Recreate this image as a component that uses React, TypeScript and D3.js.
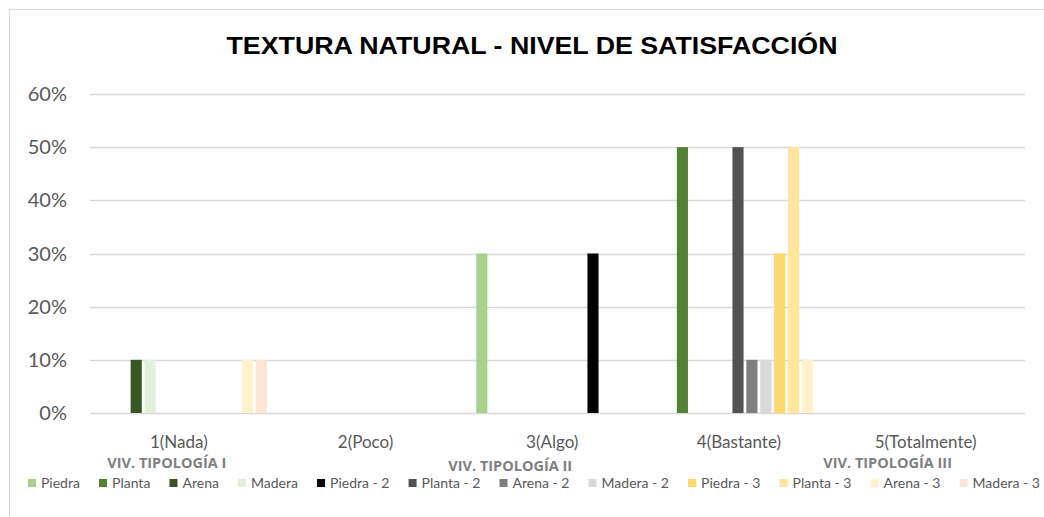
import React, { useEffect, useRef } from 'react';
import * as d3 from 'd3';

const title = "TEXTURA NATURAL - NIVEL DE SATISFACCIÓN";
const categories = ["1(Nada)", "2(Poco)", "3(Algo)", "4(Bastante)", "5(Totalmente)"];
const seriesNames = [
  "Piedra", "Planta", "Arena", "Madera",
  "Piedra - 2", "Planta - 2", "Arena - 2", "Madera - 2",
  "Piedra - 3", "Planta - 3", "Arena - 3", "Madera - 3",
];
const seriesColors = [
  "#A9D18E", "#548235", "#375623", "#E2EFDA",
  "#000000", "#525252", "#7F7F7F", "#D9D9D9",
  "#FFD966", "#FFE699", "#FFF2CC", "#FBE5D6",
];

// one array per series, one value per category
const piedra = [0, 0, 0.3, 0, 0];
const planta = [0, 0, 0, 0.5, 0];
const arena = [0.1, 0, 0, 0, 0];
const madera = [0.1, 0, 0, 0, 0];
const piedra2 = [0, 0, 0, 0, 0];
const planta2 = [0, 0, 0, 0.5, 0];
const arena2 = [0, 0, 0, 0.1, 0];
const madera2 = [0, 0, 0, 0.1, 0];
const piedra3 = [0, 0, 0.3, 0.3, 0];
const planta3 = [0, 0, 0, 0.5, 0];
const arena3 = [0.1, 0, 0, 0.1, 0];
const madera3 = [0.1, 0, 0, 0, 0];
const seriesValues = [piedra, planta, arena, madera, piedra2, planta2, arena2, madera2, piedra3, planta3, arena3, madera3];

// single point drawn in another colour in the original
const pointOverrides = [{ series: "Piedra - 3", category: "3(Algo)", color: "#000000" }];

const yTicks = [0, 0.1, 0.2, 0.3, 0.4, 0.5, 0.6];
const groupLabels = ["VIV. TIPOLOGÍA I", "VIV. TIPOLOGÍA II", "VIV. TIPOLOGÍA III"];

export default function App() {
  const ref = useRef<SVGSVGElement>(null);

  useEffect(() => {
    const width = 1044;
    const height = 517;
    const margin = { top: 94, right: 19, bottom: 104, left: 91.5 };
    const font = "Lato, 'Open Sans', sans-serif";

    const svg = d3.select(ref.current);
    svg.selectAll("*").remove();

    svg.append("rect")
      .attr("x", 9.5).attr("y", 9.5)
      .attr("width", 1100).attr("height", 600)
      .attr("fill", "white").attr("stroke", "#d9d9d9");

    const x = d3.scaleBand()
      .domain(categories)
      .range([margin.left, width - margin.right]);

    const inner = d3.scaleBand()
      .domain(seriesNames)
      .range([-82, 82])
      .paddingInner(0.2);

    const y = d3.scaleLinear()
      .domain([0, 0.6])
      .range([height - margin.bottom, margin.top]);

    svg.append("text")
      .attr("x", 532).attr("y", 54)
      .attr("text-anchor", "middle")
      .attr("font-family", "'Liberation Sans Narrow', 'Liberation Sans', Arial, sans-serif")
      .attr("font-weight", "bold")
      .attr("font-size", 24)
      .attr("textLength", 611)
      .attr("lengthAdjust", "spacingAndGlyphs")
      .attr("fill", "#000")
      .text(title);

    // gridlines
    svg.append("g")
      .selectAll("line")
      .data(yTicks)
      .join("line")
      .attr("x1", 90).attr("x2", width - margin.right)
      .attr("y1", (d) => Math.round(y(d)) + 0.5)
      .attr("y2", (d) => Math.round(y(d)) + 0.5)
      .attr("stroke", "#d9d9d9")
      .attr("stroke-width", 1.3);

    svg.append("g")
      .selectAll("text")
      .data(yTicks)
      .join("text")
      .attr("x", 67)
      .attr("y", (d) => y(d))
      .attr("dy", "0.35em")
      .attr("text-anchor", "end")
      .attr("font-family", font)
      .attr("font-size", 20)
      .attr("fill", "#595959")
      .text((d) => d3.format(".0%")(d));

    // bars
    const bars = seriesNames.flatMap((name, si) =>
      categories.map((cat, ci) => ({ name, cat, value: seriesValues[si][ci], color: seriesColors[si] }))
    ).filter((d) => d.value > 0);

    svg.append("g")
      .selectAll("rect")
      .data(bars)
      .join("rect")
      .attr("x", (d) => x(d.cat)! + x.bandwidth() / 2 + inner(d.name)!)
      .attr("y", (d) => y(d.value))
      .attr("width", inner.bandwidth())
      .attr("height", (d) => y(0) - y(d.value))
      .attr("fill", (d) => {
        const o = pointOverrides.find((p) => p.series === d.name && p.category === d.cat);
        return o ? o.color : d.color;
      });

    // category labels
    svg.append("g")
      .selectAll("text")
      .data(categories)
      .join("text")
      .attr("x", (d) => x(d)! + x.bandwidth() / 2 - 6)
      .attr("y", 448)
      .attr("text-anchor", "middle")
      .attr("font-family", font)
      .attr("font-size", 17)
      .attr("fill", "#595959")
      .text((d) => d);

    // typology labels
    const groupPos = [
      { x: x(categories[0])! + x.bandwidth() / 2 - 18, y: 468 },
      { x: x(categories[2])! + x.bandwidth() / 2 - 48, y: 471 },
      { x: x(categories[4])! + x.bandwidth() / 2 - 44, y: 468 },
    ];
    svg.append("g")
      .selectAll("text")
      .data(groupLabels)
      .join("text")
      .attr("x", (d, i) => groupPos[i].x)
      .attr("y", (d, i) => groupPos[i].y)
      .attr("text-anchor", "middle")
      .attr("font-family", "'Open Sans', sans-serif")
      .attr("font-weight", "bold")
      .attr("font-size", 14.5)
      .attr("fill", "#7f7f7f")
      .text((d) => d);

    // legend
    const lg = svg.append("g");
    const items = lg.selectAll("g")
      .data(seriesNames)
      .join("g");
    items.append("rect")
      .attr("y", 479).attr("width", 8).attr("height", 8)
      .attr("fill", (d, i) => seriesColors[i]);
    items.append("text")
      .attr("x", 13).attr("y", 488)
      .attr("font-family", font)
      .attr("font-size", 14)
      .attr("fill", "#595959")
      .text((d) => d);

    const widths = items.select("text").nodes().map((n) => 13 + (n as SVGTextElement).getComputedTextLength());
    const start = 28;
    const end = 1040;
    const gap = (end - start - d3.sum(widths)) / (widths.length - 1);
    let cx = start;
    items.attr("transform", (d, i) => {
      const t = `translate(${cx},0)`;
      cx += widths[i] + gap;
      return t;
    });
  }, []);

  return (
    <svg
      ref={ref}
      width={1044}
      height={517}
      style={{ position: 'absolute', left: 0, top: 0, background: 'white' }}
    />
  );
}
